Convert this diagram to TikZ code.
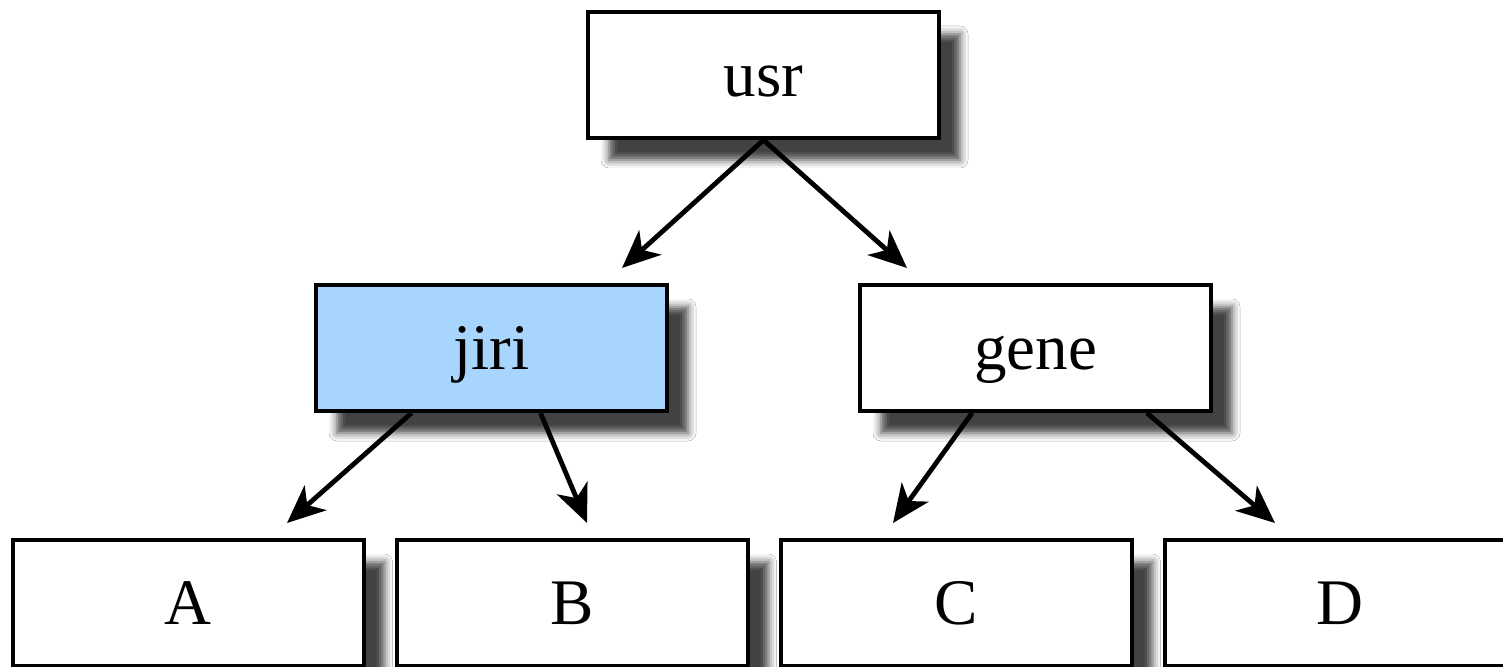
\documentclass[tikz,border=0pt]{standalone}
\usepackage{fontspec}
\setmainfont{Liberation Serif}
\usetikzlibrary{arrows.meta,shadows.blur}
\definecolor{nodeblue}{RGB}{168,213,253}
\tikzset{
  dirbox/.style={draw=black, fill=white, line width=2pt,
    minimum width=175.5pt, minimum height=63pt, inner sep=0pt,
    text height=21.5pt, text depth=0pt,
    font=\fontsize{32.5}{39}\selectfont,
    blur shadow={shadow xshift=10.5pt, shadow yshift=-11pt,
      shadow blur radius=4pt, shadow opacity=74}},
  link/.style={line width=2.4pt,
    -{Stealth[length=19pt, width=16.5pt, inset=5.5pt]}}
}
\begin{document}
\begin{tikzpicture}[x=0.5pt, y=-0.5pt]
  \useasboundingbox (0,0) rectangle (1503,667);
  \clip (0,0) rectangle (1503,667);
  \fill[white] (0,0) rectangle (1503,667);

  % directory boxes
  \node[dirbox] (usr)  at (763.5,75)  {usr};
  \node[dirbox, fill=nodeblue] (jiri) at (491.5,348) {jiri};
  \node[dirbox] (gene) at (1035.5,348) {gene};
  \node[dirbox] (A) at (188,603)  {A};
  \node[dirbox] (B) at (572,603)  {B};
  \node[dirbox] (C) at (956,603)  {C};
  \node[dirbox] (D) at (1340,603) {D};

  % arrow tips stop just above the child boxes
  \coordinate (tj) at (622,268);
  \coordinate (tg) at (907,268);
  \coordinate (ta) at (287,523);
  \coordinate (tb) at (587,523);
  \coordinate (tc) at (893,523);
  \coordinate (td) at (1275,523);

  \draw[link] (usr.south) -- (tj);
  \draw[link] (usr.south) -- (tg);
  \draw[link] ([xshift=-40pt]jiri.south) -- (ta);
  \draw[link] ([xshift=24.5pt]jiri.south) -- (tb);
  \draw[link] ([xshift=-31.75pt]gene.south) -- (tc);
  \draw[link] ([xshift=55.75pt]gene.south) -- (td);
\end{tikzpicture}
\end{document}
